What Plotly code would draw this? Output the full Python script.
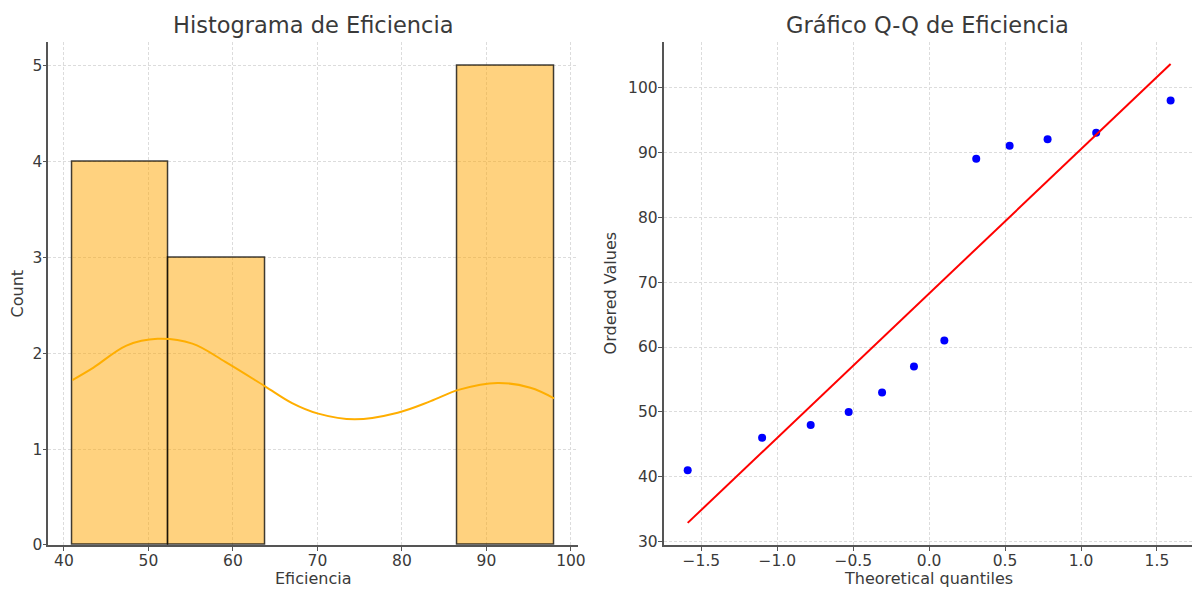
import plotly.graph_objects as go

# ---- data ----
bin_edges = [41, 52.4, 63.8, 75.2, 86.6, 98]
bin_counts = [4, 3, 0, 0, 5]

kde_x = [41, 43.5, 47.4, 51.1, 55.2, 59.1, 63.8, 67.0, 70.1, 74.4, 79.5, 83.4, 86.8, 91.3, 95.2, 98]
kde_y = [1.72, 1.85, 2.08, 2.15, 2.10, 1.91, 1.655, 1.48, 1.37, 1.31, 1.38, 1.50, 1.62, 1.69, 1.64, 1.53]

qq_theoretical = [-1.59, -1.10, -0.78, -0.53, -0.31, -0.10, 0.10, 0.31, 0.53, 0.78, 1.10, 1.59]
qq_ordered = [41, 46, 48, 50, 53, 57, 61, 89, 91, 92, 93, 98]
fit_x = [-1.59, 1.59]
fit_y = [32.9, 103.6]

hist_xticks = [40, 50, 60, 70, 80, 90, 100]
hist_yticks = [0, 1, 2, 3, 4, 5]
qq_xticks = [-1.5, -1.0, -0.5, 0.0, 0.5, 1.0, 1.5]
qq_xticklabels = ["\u22121.5", "\u22121.0", "\u22120.5", "0.0", "0.5", "1.0", "1.5"]
qq_yticks = [30, 40, 50, 60, 70, 80, 90, 100]

W, H = 1200, 597
FONT = "DejaVu Sans"
TXT = "#3a3a3a"

centers = [(bin_edges[i] + bin_edges[i + 1]) / 2 for i in range(len(bin_counts))]
widths = [bin_edges[i + 1] - bin_edges[i] for i in range(len(bin_counts))]
edge_w = [1.5 if c > 0 else 0 for c in bin_counts]

fig = go.Figure()
fig.add_trace(go.Bar(
    x=centers, y=bin_counts, width=widths,
    marker=dict(color="rgba(255,165,0,0.5)", line=dict(color="rgba(0,0,0,0.75)", width=edge_w)),
    xaxis="x", yaxis="y", showlegend=False, hoverinfo="skip"))
fig.add_trace(go.Scatter(
    x=kde_x, y=kde_y, mode="lines", line=dict(color="#FFAE00", width=2, shape="spline", smoothing=1.0),
    xaxis="x", yaxis="y", showlegend=False, hoverinfo="skip"))
fig.add_trace(go.Scatter(
    x=qq_theoretical, y=qq_ordered, mode="markers",
    marker=dict(color="#0000FF", size=8),
    xaxis="x2", yaxis="y2", showlegend=False, hoverinfo="skip"))
fig.add_trace(go.Scatter(
    x=fit_x, y=fit_y, mode="lines", line=dict(color="#FF0000", width=2),
    xaxis="x2", yaxis="y2", showlegend=False, hoverinfo="skip"))

def px_x(p):
    return p / W

def px_y(p):
    return 1 - p / H

ydom = [px_y(553.3), px_y(42.3)]
axcommon = dict(
    showline=True, linecolor="#555555", linewidth=1.5,
    ticks="outside", ticklen=4, tickwidth=1.2, tickcolor="#555555",
    showgrid=True, gridcolor="#dcdcdc", gridwidth=1, griddash="3px,2px",
    zeroline=False, tickfont=dict(family=FONT, size=15.5, color=TXT),
    mirror=False, fixedrange=True, ticklabelstandoff=-3,
)

fig.update_layout(
    width=W, height=H,
    margin=dict(l=0, r=0, t=0, b=0),
    paper_bgcolor="white", plot_bgcolor="white",
    bargap=0,
    xaxis=dict(domain=[px_x(48.6), px_x(582)], range=[38.15, 100.85],
               tickvals=hist_xticks, anchor="y", **axcommon),
    yaxis=dict(domain=ydom, range=[0, 5.25], tickvals=hist_yticks, anchor="x", **axcommon),
    xaxis2=dict(domain=[px_x(668), 1.0], range=[-1.749, (1200 - 935) / 153.1],
                tickvals=qq_xticks, ticktext=qq_xticklabels, anchor="y2", **axcommon),
    yaxis2=dict(domain=ydom, range=[29.5, 107.05], tickvals=qq_yticks, anchor="x2", **axcommon),
)

ann = []
def label(text, x, y, size, angle=0):
    ann.append(dict(text=text, x=px_x(x), y=px_y(y), xref="paper", yref="paper",
                    showarrow=False, textangle=angle, xanchor="center", yanchor="middle",
                    font=dict(family=FONT, size=size, color=TXT)))

label("Histograma de Eficiencia", 315, 25, 22.5)
label("Gráfico Q-Q de Eficiencia", 934, 25, 22.5)
label("Eficiencia", 315, 587, 16)
label("Theoretical quantiles", 935, 587, 16)
label("Count", 18, 298, 16, -90)
label("Ordered Values", 615, 298, 16, -90)
fig.update_layout(annotations=ann)

fig.write_html(
    "out.html",
    config={"displayModeBar": False},
    post_script=(
        "document.documentElement.style.margin='0';"
        "document.documentElement.style.overflow='hidden';"
        "document.body.style.margin='0';"
        "document.body.style.height='597px';"
        "document.body.style.overflow='hidden';"
    ),
)
